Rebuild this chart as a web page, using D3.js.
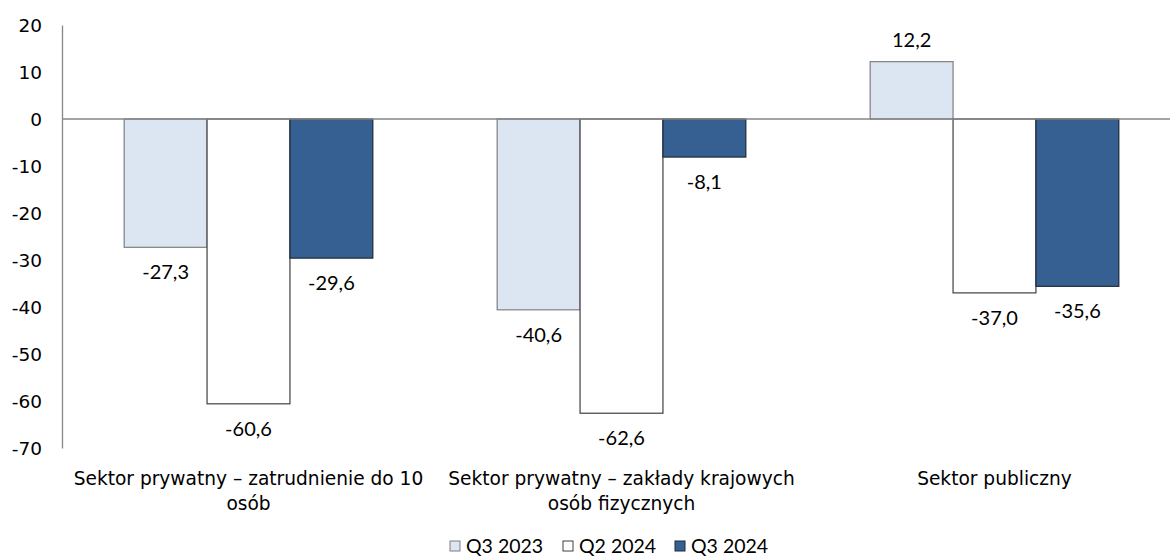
<!DOCTYPE html>
<html>
<head>
<meta charset="utf-8">
<script src="https://cdn.jsdelivr.net/npm/d3@7"></script>
<style>
  html, body { margin: 0; padding: 0; background: #fff; }
  svg { display: block; }
</style>
</head>
<body>
<svg id="chart" width="1170" height="558"></svg>
<script>
// Categories (two-line labels) and series values
const categories = [
  ["Sektor prywatny \u2013 zatrudnienie do 10", "osób"],
  ["Sektor prywatny \u2013 zakłady krajowych", "osób fizycznych"],
  ["Sektor publiczny"]
];
const seriesNames = ["Q3 2023", "Q2 2024", "Q3 2024"];
const q3_2023 = [-27.3, -40.6, 12.2];
const q2_2024 = [-60.6, -62.6, -37.0];
const q3_2024 = [-29.6, -8.1, -35.6];
const yTicks = [20, 10, 0, -10, -20, -30, -40, -50, -60, -70];

const seriesValues = [q3_2023, q2_2024, q3_2024];
const fills = ["#dce6f2", "#ffffff", "#376092"];
const strokes = ["#7f7f7f", "#404040", "#1f2a3a"];

const svg = d3.select("#chart");
const plotLeft = 62, plotRight = 1181, plotTop = 25, plotBottom = 448;

const y = d3.scaleLinear().domain([-70, 20]).range([plotBottom, plotTop]);
const x0 = d3.scaleBand().domain(d3.range(categories.length)).range([plotLeft, plotRight]).paddingInner(0).paddingOuter(0);
const groupW = x0.bandwidth();
const barW = groupW / 4.5;
const x1 = d3.scaleBand().domain(d3.range(seriesNames.length))
  .range([groupW / 2 - 1.5 * barW, groupW / 2 + 1.5 * barW]);

const tickFont = "DejaVu Sans, Verdana, sans-serif";
const valFont = "Lato, 'Open Sans', sans-serif";

// y axis: line with labels only, plain hyphen for negatives
const yAxis = d3.axisLeft(y).tickValues(yTicks).tickSize(0).tickPadding(20)
  .tickFormat(d => String(d));
const gy = svg.append("g").attr("transform", `translate(${plotLeft},0)`).call(yAxis);
gy.select(".domain").attr("stroke", "#868686").attr("stroke-width", 1.3);
gy.selectAll("text").attr("font-family", tickFont).attr("font-size", 18.5).attr("fill", "#000")
  .attr("dy", "0.36em");

// bars
const groups = svg.append("g").selectAll("g").data(categories).join("g")
  .attr("transform", (d, i) => `translate(${x0(i)},0)`);

seriesValues.forEach((vals, s) => {
  groups.append("rect")
    .attr("x", x1(s))
    .attr("width", x1.bandwidth())
    .attr("y", (d, i) => y(Math.max(0, vals[i])))
    .attr("height", (d, i) => Math.abs(y(vals[i]) - y(0)))
    .attr("fill", fills[s])
    .attr("stroke", strokes[s])
    .attr("stroke-width", 1.2);
});

// zero line
svg.append("line").attr("x1", plotLeft).attr("x2", 1170).attr("y1", y(0)).attr("y2", y(0))
  .attr("stroke", "#868686").attr("stroke-width", 1.3);

// value labels
const fmt = v => v.toFixed(1).replace(".", ",");
seriesValues.forEach((vals, s) => {
  groups.append("text")
    .attr("x", x1(s) + x1.bandwidth() / 2)
    .attr("y", (d, i) => vals[i] >= 0 ? y(vals[i]) - 15 : y(vals[i]) + 32)
    .attr("text-anchor", "middle")
    .attr("font-family", valFont)
    .attr("font-size", 20)
    .attr("fill", "#000")
    .text((d, i) => fmt(vals[i]));
});

// category labels
groups.each(function(lines) {
  const t = d3.select(this).append("text")
    .attr("text-anchor", "middle")
    .attr("font-family", tickFont)
    .attr("font-size", 18.6)
    .attr("fill", "#000");
  lines.forEach((ln, k) => {
    t.append("tspan").attr("x", groupW / 2).attr("y", 485 + k * 25).text(ln);
  });
});

// legend
const legendX = [450, 563, 675];
const lg = svg.append("g").selectAll("g").data(seriesNames).join("g")
  .attr("transform", (d, i) => `translate(${legendX[i]},546)`);
lg.append("rect").attr("x", 0).attr("y", -5).attr("width", 10).attr("height", 10)
  .attr("fill", (d, i) => fills[i]).attr("stroke", (d, i) => strokes[i]).attr("stroke-width", 1);
lg.append("text").attr("x", 16).attr("y", 7)
  .attr("font-family", valFont).attr("font-size", 19.5).attr("fill", "#000").text(d => d);
</script>
</body>
</html>
